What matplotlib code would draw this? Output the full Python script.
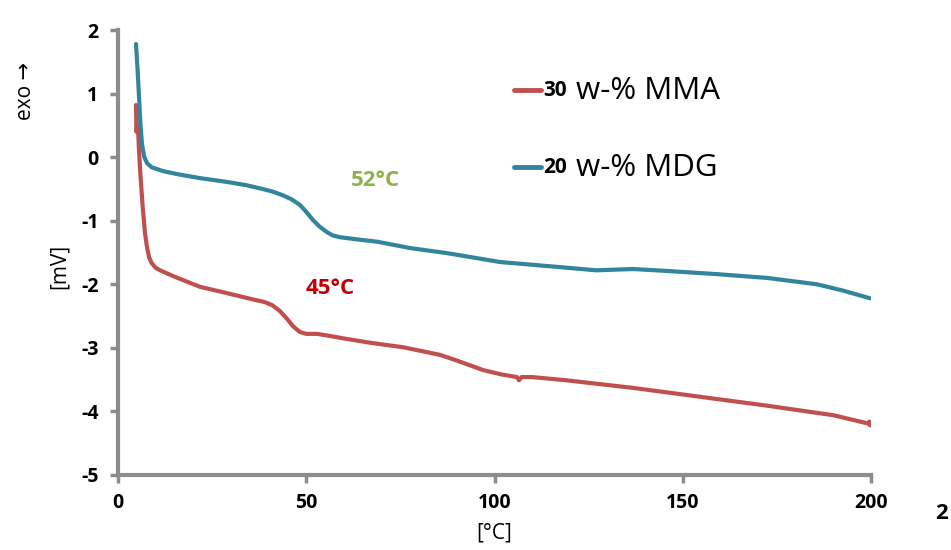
import matplotlib.pyplot as plt
from matplotlib.lines import Line2D

plt.rcParams['font.family'] = ['Open Sans', 'DejaVu Sans']
plt.rcParams['axes.unicode_minus'] = False

temp_mdg = [4.8, 5.2, 5.6, 6.0, 6.4, 7.0, 7.8, 9.0, 12, 16, 21.8, 29, 34, 37.7, 41,
            43.8, 46, 48.3, 50, 51.8, 53.5, 55.5, 57, 59, 63, 68.8, 77.6, 87.4,
            101.5, 117.4, 127, 136.8, 145.8, 159, 172.4, 185.6, 192.6, 199.7]
signal_mdg = [1.78, 1.40, 0.95, 0.50, 0.20, 0.00, -0.10, -0.16, -0.22, -0.27, -0.33,
              -0.39, -0.44, -0.49, -0.54, -0.60, -0.66, -0.75, -0.86, -0.99, -1.09,
              -1.18, -1.23, -1.26, -1.29, -1.33, -1.43, -1.51, -1.65, -1.73, -1.78,
              -1.76, -1.79, -1.84, -1.90, -2.00, -2.10, -2.22]

temp_mma = [4.8, 4.9, 5.3, 5.6, 6.0, 6.6, 7.2, 7.7, 8.3, 9.0, 10, 11.2, 15, 21.8, 29,
            36, 39, 41, 43, 45, 46.5, 48.3, 50, 52.9, 56, 59.8, 67, 75.7,
            85.5, 90, 97, 102, 106, 106.5, 107.2, 110, 119, 136.8, 154.6, 172.4,
            190, 199.2, 199.5, 199.7]
signal_mma = [0.82, 0.40, 0.50, 0.10, -0.30, -0.80, -1.20, -1.41, -1.58, -1.67, -1.74,
              -1.78, -1.88, -2.04, -2.14, -2.24, -2.28, -2.33, -2.42, -2.55, -2.66,
              -2.75, -2.78, -2.78, -2.81, -2.85, -2.92, -2.99, -3.11, -3.20, -3.35,
              -3.42, -3.46, -3.51, -3.46, -3.46, -3.51, -3.63, -3.77, -3.91, -4.06,
              -4.19, -4.16, -4.22]

labels = [('30', 'w-% MMA'), ('20', 'w-% MDG')]
colors = ['#c0504d', '#31859c']

x_ticks = [0, 50, 100, 150, 200]
y_ticks = [-5, -4, -3, -2, -1, 0, 1, 2]

fig = plt.figure(figsize=(9.51, 5.5), dpi=100)
ax = fig.add_axes([0.124, 0.1364, 0.792, 0.809])

ax.plot(temp_mma, signal_mma, color=colors[0], lw=3, solid_capstyle='round',
        solid_joinstyle='round')
ax.plot(temp_mdg, signal_mdg, color=colors[1], lw=3, solid_capstyle='round',
        solid_joinstyle='round')

ax.set_xlim(0, 200)
ax.set_ylim(-5, 2)
ax.set_xticks(x_ticks)
ax.set_yticks(y_ticks)
ax.tick_params(axis='both', colors='#8c8c8c', width=2.5, length=6,
               labelcolor='black', labelsize=14)
for lab in ax.get_xticklabels() + ax.get_yticklabels():
    lab.set_fontweight('bold')
ax.tick_params(axis='x', pad=7)
ax.tick_params(axis='y', pad=8)
for side in ['top', 'right']:
    ax.spines[side].set_visible(False)
for side in ['left', 'bottom']:
    ax.spines[side].set_color('#8c8c8c')
    ax.spines[side].set_linewidth(3)

fig.text(0.520, 0.030, '[°C]', ha='center', va='center', fontsize=15)
fig.text(0.062, 0.515, '[mV]', ha='center', va='center', fontsize=15, rotation=90)
fig.text(0.027, 0.835, 'exo →', ha='center', va='center', fontsize=15, rotation=90)
fig.text(0.990, 0.067, '2', ha='center', va='center', fontsize=16, fontweight='bold')

# Glasübergangstemperaturen
ax.text(68.3, -0.37, '52°C', color='#8db04a', fontsize=16, fontweight='bold',
        ha='center', va='center')
ax.text(56.3, -2.06, '45°C', color='#c00000', fontsize=16, fontweight='bold',
        ha='center', va='center')

# Legende von Hand gesetzt
for i, ((num, rest), c) in enumerate(zip(labels, colors)):
    y = 0.836 - i * 0.140
    fig.add_artist(Line2D([0.541, 0.569], [y, y], color=c, lw=3.5,
                          solid_capstyle='round', transform=fig.transFigure))
    fig.text(0.571, y, num, fontsize=15, fontweight='bold', va='center')
    fig.text(0.606, y - 0.002, rest, fontsize=22.5, va='center')

fig.savefig('out.png', dpi=100)
